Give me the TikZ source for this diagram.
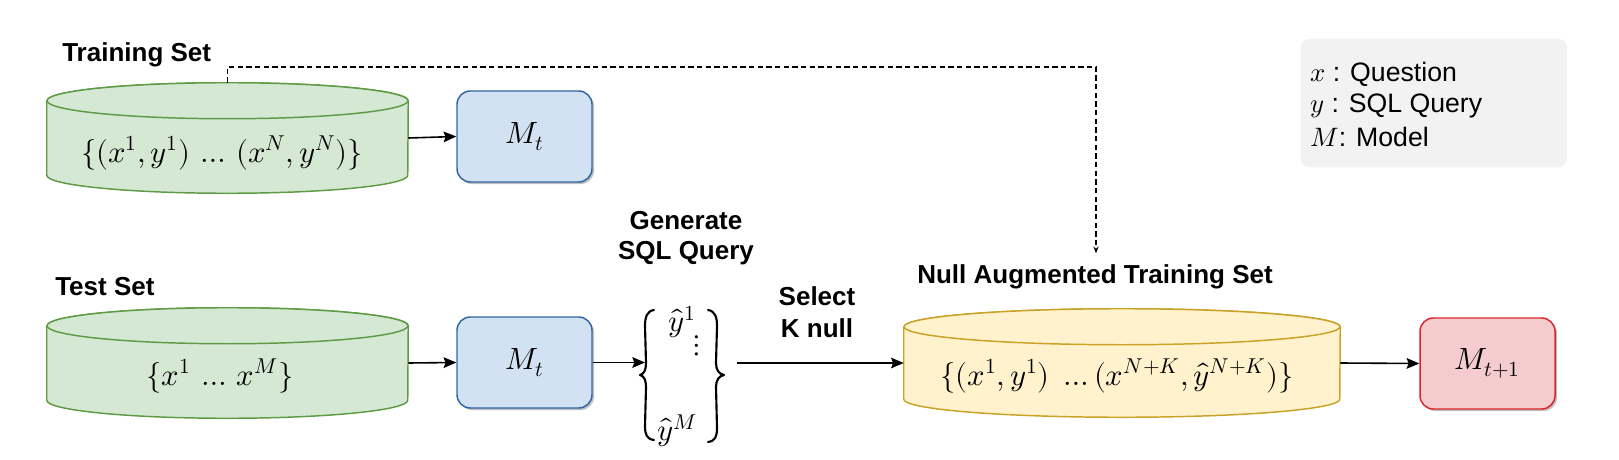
\documentclass[tikz,border=0pt]{standalone}
\usepackage{unicode-math}
\setmainfont{Liberation Sans}
\setmathfont{Latin Modern Math}
\usetikzlibrary{arrows.meta,shadows,calc}
\definecolor{gfill}{HTML}{D5E8D4}
\definecolor{gdraw}{HTML}{5E9B44}
\definecolor{bfill}{HTML}{D2E2F3}
\definecolor{bdraw}{HTML}{2F66A3}
\definecolor{rfill}{HTML}{F4CCCE}
\definecolor{rdraw}{HTML}{D9262C}
\definecolor{yfill}{HTML}{FFF2CC}
\definecolor{ydraw}{HTML}{C9A227}
\definecolor{legfill}{HTML}{F2F2F2}
\newcommand{\mycyl}[4]{%
  \fill[black,opacity=0.18,shift={(1.5pt,-1.5pt)}]
    ([yshift=-13.5pt]#1.north west) -- ([yshift=13.5pt]#1.south west)
    arc[start angle=180,end angle=360,x radius=#4,y radius=13.5pt]
    -- ([yshift=-13.5pt]#1.north east)
    arc[start angle=0,end angle=180,x radius=#4,y radius=13.5pt] -- cycle;
  \path[fill=#2,draw=#3,line width=1.1pt]
    ([yshift=-13.5pt]#1.north west) -- ([yshift=13.5pt]#1.south west)
    arc[start angle=180,end angle=360,x radius=#4,y radius=13.5pt]
    -- ([yshift=-13.5pt]#1.north east)
    arc[start angle=0,end angle=180,x radius=#4,y radius=13.5pt] -- cycle;
  \draw[fill=#2,draw=#3,line width=1.1pt]
    ([yshift=-13.5pt]#1.north) ellipse[x radius=#4,y radius=13.5pt];
}
\tikzset{
  lbl/.style={font=\fontsize{19.5}{23}\selectfont\bfseries, inner sep=0pt},
  leg/.style={font=\fontsize{20}{24}\selectfont, inner sep=0pt},
  mth/.style={font=\fontsize{23}{28}\selectfont, inner sep=0pt},
  mbox/.style={rounded corners=10pt, line width=1.1pt, minimum width=101.25pt,
    minimum height=68.25pt, font=\fontsize{23}{28}\selectfont,
    drop shadow={shadow xshift=1.5pt,shadow yshift=-1.5pt,opacity=0.25,fill=black}},
  cylnode/.style={inner sep=0pt, minimum height=82.5pt},
  arr/.style={line width=1.2pt, -{Stealth[length=9.5pt,width=8pt,inset=1.5pt]}},
  dashline/.style={line width=0.9pt, dash pattern=on 4pt off 2.5pt,
    -{Stealth[length=5pt,width=4pt]}},
  bracestroke/.style={line width=1.6pt, line cap=round, line join=round},
}
\begin{document}
\begin{tikzpicture}[x=0.75pt,y=-0.75pt]
\useasboundingbox (0,0) rectangle (1619,460);
% legend
\node[rounded corners=6pt, fill=legfill, minimum width=199.5pt, minimum height=96pt, inner sep=0pt] (legend) at (1434,103) {};
\node[leg, anchor=base west] (l1) at (1310,81) {$x$ : Question};
\node[leg, anchor=base west] (l2) at (1310,113) {$y$ : SQL Query};
\node[leg, anchor=base west] (l3) at (1310,146) {$M$: Model};
% labels
\node[lbl, anchor=base west] (trainlbl) at (62,62) {Training Set};
\node[lbl, anchor=base west] (testlbl) at (55,295) {Test Set};
\node[lbl, anchor=base] (gen1) at (686,229) {Generate};
\node[lbl, anchor=base] (gen2) at (686,259) {SQL Query};
\node[lbl, anchor=base] (sel1) at (817,305) {Select};
\node[lbl, anchor=base] (sel2) at (817,337) {K null};
\node[lbl, anchor=base] (nulllbl) at (1095,283) {Null Augmented Training Set};
% cylinders
\node[cylnode, minimum width=270.75pt] (train) at (227.5,138) {};
\node[cylnode, minimum width=270.75pt] (test) at (227.5,363) {};
\node[cylnode, minimum width=327pt, minimum height=81pt] (nullset) at (1122,363) {};
\mycyl{train}{gfill}{gdraw}{135.375pt}
\mycyl{test}{gfill}{gdraw}{135.375pt}
\mycyl{nullset}{yfill}{ydraw}{163.5pt}
\node[mth] (traintxt) at (222,153) {$\{(x^1,y^1)\,\dots\,(x^N,y^N)\}$};
\node[mth] (testtxt) at (220,376) {$\{x^1\,\dots\,x^M\}$};
\node[mth] (nulltxt) at (1117,376) {$\{(x^1,y^1)\;\dots(x^{N+K},\hat{y}^{N+K})\}$};
% model boxes
\node[mbox, fill=bfill, draw=bdraw] (mt1) at (524.5,136.5) {$M_t$};
\node[mbox, fill=bfill, draw=bdraw] (mt2) at (524.5,362.5) {$M_t$};
\node[mbox, fill=rfill, draw=rdraw] (mt3) at (1487.5,363.5) {$M_{t+1}$};
% generated queries and their braces
\draw[bracestroke] (654,310) .. controls (647,311) and (645,317) .. (645,326)
  -- (646,363) .. controls (646,370) and (644,374) .. (640,375)
  .. controls (644,376) and (646,380) .. (646,387)
  -- (645,426) .. controls (645,435) and (647,439) .. (654,440);
\draw[bracestroke] (708,310) .. controls (715,311) and (717,317) .. (717,326)
  -- (716,363) .. controls (716,370) and (719,374) .. (724,375)
  .. controls (719,376) and (716,380) .. (716,387)
  -- (717,428) .. controls (717,437) and (715,441) .. (708,442);
\node[mth] (yh1) at (682,322) {$\hat{y}^1$};
\node[mth] (vd) at (697,346) {$\vdots$};
\node[mth] (yhM) at (677,431) {$\hat{y}^M$};
\coordinate (lb) at (645,375);
\coordinate (rb) at (737,363);
% connectors
\coordinate (dcorner) at (1096,67);
\draw[dashline, shorten >=8pt] (train.north) |- (dcorner) -- (dcorner |- nulllbl.north);
\draw[arr] (train.east) -- (mt1.west);
\draw[arr] (test.east) -- (mt2.west);
\draw[arr] (mt2.east) -- (mt2.east -| lb);
\draw[arr] (rb) -- (nullset.west);
\draw[arr] (nullset.east) -- (mt3.west);
\end{tikzpicture}
\end{document}
